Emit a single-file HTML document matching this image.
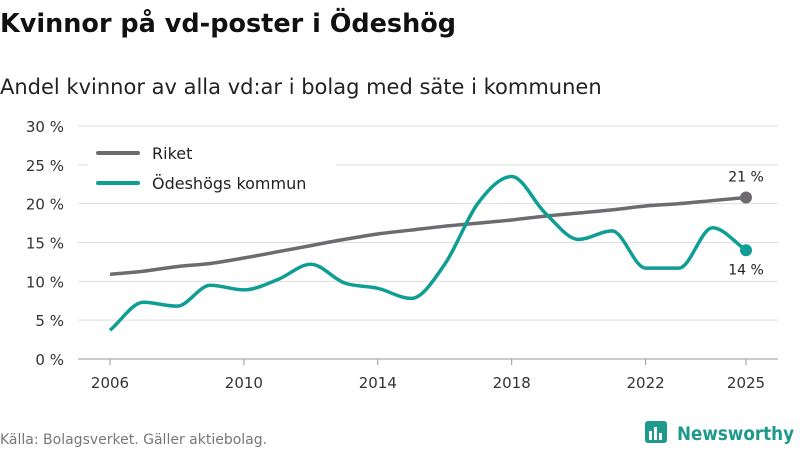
<!DOCTYPE html>
<html><head><meta charset="utf-8"><style>
body{margin:0;background:#fff;font-family:"DejaVu Sans","Liberation Sans",sans-serif;}
svg text{font-family:"DejaVu Sans","Liberation Sans",sans-serif;}
</style></head><body>
<svg width="800" height="450" viewBox="0 0 800 450">
<text x="0" y="32" font-size="25.5" font-weight="bold" fill="#111">Kvinnor på vd-poster i Ödeshög</text>
<text x="0" y="94" font-size="21" fill="#222">Andel kvinnor av alla vd:ar i bolag med säte i kommunen</text>
<g id="grid"></g><g id="series"></g>
<g>
<rect x="88" y="138" width="248" height="64" fill="#fff"/>
<line x1="98" y1="153" x2="138" y2="153" stroke="#6d6b70" stroke-width="4" stroke-linecap="round"/>
<text x="152" y="159" font-size="16" fill="#222">Riket</text>
<line x1="98" y1="183" x2="138" y2="183" stroke="#0e9e94" stroke-width="4" stroke-linecap="round"/>
<text x="152" y="189" font-size="16" fill="#222">Ödeshögs kommun</text>
</g>
<text x="0" y="444" font-size="14" fill="#777">Källa: Bolagsverket. Gäller aktiebolag.</text>
<g>
<rect x="645" y="421" width="22" height="22" rx="3" fill="#1e9a8c"/>
<rect x="649" y="431" width="3" height="9" fill="#fff"/><rect x="654" y="427" width="3" height="13" fill="#fff"/><rect x="659" y="433" width="3" height="7" fill="#fff"/>
<text x="677" y="440" font-size="19" font-weight="bold" fill="#1e9a8c" textLength="117" lengthAdjust="spacingAndGlyphs">Newsworthy</text>
</g>
</svg>
<script>
const years=[2006,2007,2008,2009,2010,2011,2012,2013,2014,2015,2016,2017,2018,2019,2020,2021,2022,2023,2024,2025];
const riket=[10.9,11.3,11.9,12.3,13.0,13.8,14.6,15.4,16.1,16.6,17.1,17.5,17.9,18.4,18.8,19.2,19.7,20.0,20.4,20.8];
const odeshog=[3.7,7.3,6.8,9.5,8.9,10.2,12.2,9.8,9.1,7.8,12.2,20.1,23.5,18.8,15.4,16.5,11.7,11.7,16.9,14.0];
const yTicks=[0,5,10,15,20,25,30];
const xTicks=[2006,2010,2014,2018,2022,2025];
const NS="http://www.w3.org/2000/svg";
const xs=v=>110+(v-2006)*(746-110)/19;
const ys=v=>359-v*(359-126)/30;
function mk(t,a,p){const e=document.createElementNS(NS,t);for(const k in a)e.setAttribute(k,a[k]);p.appendChild(e);return e;}
const g=document.getElementById('grid');
yTicks.forEach(v=>{
 const l=mk('line',{x1:78,x2:778,y1:ys(v),y2:ys(v),stroke:v===0?'#999':'#ddd','stroke-width':1},g);
 
 
 const t=mk('text',{x:64,y:ys(v)+6,'text-anchor':'end','font-size':15,fill:'#333'},g);
 t.textContent=v+' %';
 
 
});
xTicks.forEach(v=>{
 mk('line',{x1:xs(v),x2:xs(v),y1:359,y2:365,stroke:'#999'},g);
 const t=mk('text',{x:xs(v),y:388,'text-anchor':'middle','font-size':15,fill:'#333'},g);
 t.textContent=v;
 
 
});
function monotone(pts){
 const n=pts.length,d=[],m=[];
 for(let i=0;i<n-1;i++)d.push((pts[i+1][1]-pts[i][1])/(pts[i+1][0]-pts[i][0]));
 for(let i=0;i<n;i++){
  if(i===0)m.push(d[0]);else if(i===n-1)m.push(d[n-2]);
  else m.push(d[i-1]*d[i]<=0?0:(d[i-1]+d[i])/2);
 }
 for(let i=0;i<n-1;i++){if(d[i]===0){m[i]=0;m[i+1]=0;continue;}
  const a=m[i]/d[i],b=m[i+1]/d[i],s=a*a+b*b;if(s>9){const t=3/Math.sqrt(s);m[i]=t*a*d[i];m[i+1]=t*b*d[i];}}
 let p=`M${pts[0][0]},${pts[0][1]}`;
 for(let i=0;i<n-1;i++){const h=(pts[i+1][0]-pts[i][0])/3;
  p+=`C${pts[i][0]+h},${pts[i][1]+m[i]*h} ${pts[i+1][0]-h},${pts[i+1][1]-m[i+1]*h} ${pts[i+1][0]},${pts[i+1][1]}`;}
 return p;
}
const s=document.getElementById('series');
[[riket,'#6d6b70','line-riket',-1],[odeshog,'#0e9e94','line-odeshog',1]].forEach(([vals,c,name,dir])=>{
 const pts=years.map((y,i)=>[xs(y),ys(vals[i])]);
 const p=mk('path',{d:monotone(pts),fill:'none',stroke:c,'stroke-width':3.5},s);
 
 
 const last=pts[pts.length-1];
 const dot=mk('circle',{cx:last[0],cy:last[1],r:6,fill:c},s);
 
 
 const t=mk('text',{x:last[0],y:dir<0?last[1]-16:last[1]+24,'text-anchor':'middle','font-size':14,fill:'#222'},s);
 t.textContent=Math.round(vals[vals.length-1])+' %';
 
 
});
</script>
</body></html>
